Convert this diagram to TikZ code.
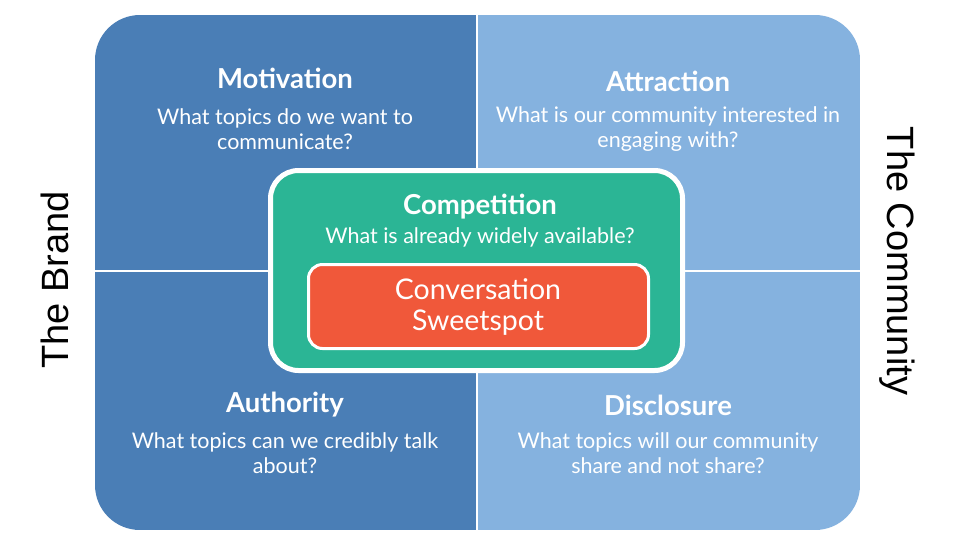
\documentclass[tikz,border=0pt]{standalone}
\usepackage{fontspec}
\setmainfont{Lato}
\newfontfamily\sidefont{Liberation Sans}
\definecolor{darkblue}{HTML}{4A7EB6}
\definecolor{lightblue}{HTML}{85B2DF}
\definecolor{compgreen}{HTML}{2BB595}
\definecolor{sweetred}{HTML}{F0583A}
\tikzset{
  ttl/.style={text=white, font=\fontsize{27.5}{30}\selectfont\bfseries, anchor=center},
  qst/.style={text=white, font=\fontsize{21.5}{24.5}\selectfont, align=center, anchor=center},
  side/.style={text=black, font=\sidefont\fontsize{38}{40}\selectfont, anchor=center},
}
\begin{document}
\begin{tikzpicture}[x=1pt,y=-1pt]
\useasboundingbox (0,0) rectangle (975,550);
\fill[white] (0,0) rectangle (975,550);
\begin{scope}
  \clip[rounded corners=45pt] (95,15) rectangle (860,530);
  \fill[darkblue] (95,15) rectangle (477,530);
  \fill[lightblue] (477,15) rectangle (860,530);
  \draw[white, line width=2.5pt] (477,15) -- (477,530);
  \draw[white, line width=2.5pt] (95,271) -- (860,271);
\end{scope}
\node[draw=white, line width=5pt, fill=compgreen, rounded corners=28pt,
      minimum width=412pt, minimum height=200pt, inner sep=0pt] (comp) at (476.5,270.5) {};
\node[draw=white, line width=3pt, fill=sweetred, rounded corners=14pt,
      minimum width=340pt, minimum height=84pt, inner sep=0pt] (sweet) at (478.5,306.5) {};
\node[ttl] (mot) at (285,78) {Motivation};
\node[qst] (motq) at (285,129) {What topics do we want to\\communicate?};
\node[ttl] (att) at (668,81) {Attraction};
\node[qst] (attq) at (668,129) {What is our community interested in\\engaging with?};
\node[ttl] (aut) at (285,405) {Authority};
\node[qst] (autq) at (285,453) {What topics can we credibly talk\\about?};
\node[ttl] (dis) at (668,405) {Disclosure};
\node[qst] (disq) at (668,453) {What topics will our community\\share and not share?};
\node[ttl] (compt) at (480,207) {Competition};
\node[qst] (compq) at (480,237) {What is already widely available?};
\node[text=white, font=\fontsize{28.5}{31}\selectfont, align=center] (sweett) at (478,306.5) {Conversation\\Sweetspot};
\node[side, rotate=90] (brand) at (55,280) {The Brand};
\node[side, rotate=-90] (comm) at (897,261) {The Community};
\end{tikzpicture}
\end{document}
